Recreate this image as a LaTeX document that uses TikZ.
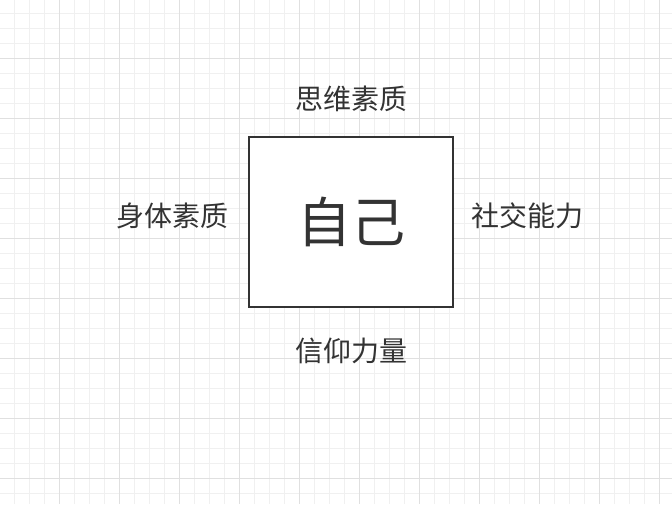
\documentclass[tikz,border=0pt]{standalone}
\usepackage{fontspec}
\setmainfont{Noto Sans CJK SC}
\definecolor{ink}{HTML}{333333}
\definecolor{minorgrid}{HTML}{F0F0F0}
\definecolor{majorgrid}{HTML}{E0E0E0}
\tikzset{
    label text/.style={text=ink, inner sep=0pt, font=\fontsize{28}{28}\selectfont},
    self box/.style={draw=ink, line width=1.6pt, fill=white, minimum width=204pt,
        minimum height=170pt, text=ink, font=\fontsize{54}{54}\selectfont}
}
\begin{document}
\begin{tikzpicture}[x=1pt, y=-1pt]
        \useasboundingbox[fill=white] (0,0) rectangle (672,504);
        % grid
        \foreach \x in {0,...,44} \draw[minorgrid, line width=0.8pt] (14.3+15*\x,0) -- (14.3+15*\x,504);
        \foreach \y in {0,...,32} \draw[minorgrid, line width=0.8pt] (0,13.3+15*\y) -- (672,13.3+15*\y);
        \foreach \x in {0,...,10} \draw[majorgrid, line width=0.8pt] (59.3+60*\x,0) -- (59.3+60*\x,504);
        \foreach \y in {0,...,7} \draw[majorgrid, line width=0.8pt] (0,58.3+60*\y) -- (672,58.3+60*\y);
        \node[self box] (self) at (351,222) {\raisebox{-2pt}{自己}};
        \node[label text] (mind) at (351,99) {思维素质};
        \node[label text] (body) at (172,215.5) {身体素质};
        \node[label text] (social) at (527,215.5) {社交能力};
        \node[label text] (faith) at (351,351) {信仰力量};
    \end{tikzpicture}
\end{document}
